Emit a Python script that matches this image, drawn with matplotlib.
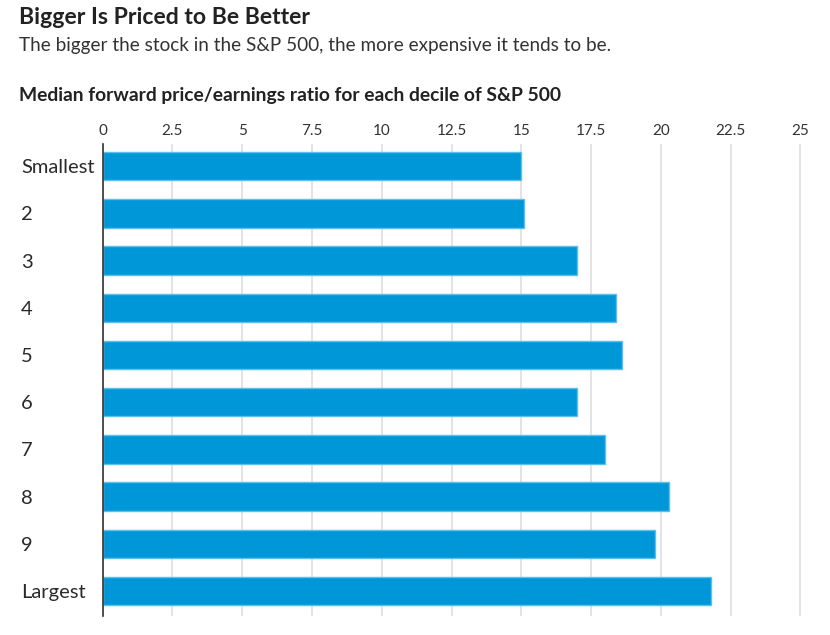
import matplotlib
matplotlib.use("Agg")
import matplotlib.pyplot as plt

deciles = ["Smallest", "2", "3", "4", "5", "6", "7", "8", "9", "Largest"]
median_pe = [15.0, 15.1, 17.0, 18.4, 18.6, 17.0, 18.0, 20.3, 19.8, 21.8]
x_ticks = [0, 2.5, 5, 7.5, 10, 12.5, 15, 17.5, 20, 22.5, 25]
x_tick_labels = ["0", "2.5", "5", "7.5", "10", "12.5", "15", "17.5", "20", "22.5", "25"]

plt.rcParams['font.family'] = ['Lato', 'DejaVu Sans']

fig = plt.figure(figsize=(8.3, 6.35), dpi=100)
ax = fig.add_axes([102.7 / 830, 1 - 616 / 635, 699 / 830, 472 / 635])

ypos = list(range(len(deciles)))
ax.barh(ypos, median_pe, height=0.6, color='#0097d9', edgecolor='#5cc0ec', linewidth=1, zorder=3)

ax.set_xlim(0, 25.05)
ax.set_ylim(len(deciles) - 0.47, -0.47)
ax.set_xticks(x_ticks)
ax.set_xticklabels(x_tick_labels)
ax.xaxis.tick_top()
ax.tick_params(axis='x', length=0, pad=4, labelsize=11, labelcolor='#333333')
ax.grid(axis='x', color='#e3e3e3', linewidth=1.4, zorder=0)

# left-aligned category labels starting ~21 px from the figure edge
ax.set_yticks(ypos)
ax.set_yticklabels(deciles)
ax.tick_params(axis='y', length=0, pad=(102.7 - 21) * 0.72, labelsize=14.5, labelcolor='#2a2a2a')
for lbl in ax.get_yticklabels():
    lbl.set_horizontalalignment('left')

for side in ['top', 'right', 'bottom']:
    ax.spines[side].set_visible(False)
ax.spines['left'].set_color('#333333')
ax.spines['left'].set_linewidth(1.2)
ax.spines['left'].set_zorder(4)

fig.text(19 / 830, 1 - 17 / 635, "Bigger Is Priced to Be Better", fontsize=16.6,
         fontweight='bold', color='#222222', va='center', ha='left')
fig.text(19 / 830, 1 - 45 / 635, "The bigger the stock in the S&P 500, the more expensive it tends to be.",
         fontsize=13.6, color='#333333', va='center', ha='left')
fig.text(19 / 830, 1 - 96 / 635, "Median forward price/earnings ratio for each decile of S&P 500",
         fontsize=13.9, fontweight='bold', color='#222222', va='center', ha='left')

fig.savefig("out.png", dpi=100)
